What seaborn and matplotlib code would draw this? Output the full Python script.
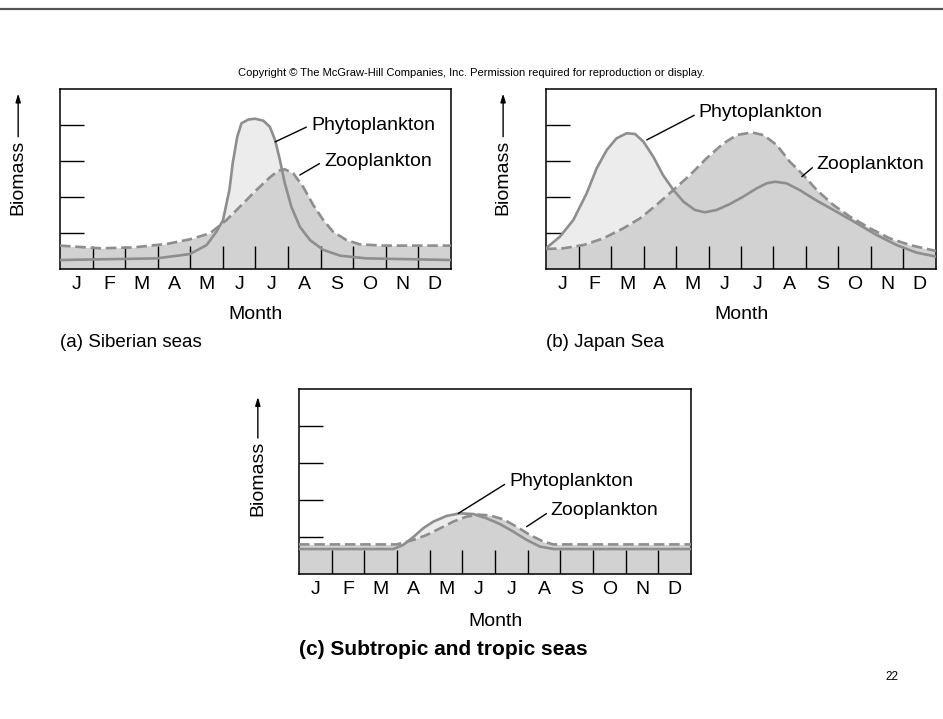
import numpy as np
import seaborn as sns
import matplotlib.pyplot as plt
from matplotlib.lines import Line2D

# month labels
months = ['J', 'F', 'M', 'A', 'M', 'J', 'J', 'A', 'S', 'O', 'N', 'D']

# (a) Siberian seas, x in months from start of Jan, y as fraction of axis height
sib_phyto_m = [0, 2.97, 3.99, 4.5, 4.8, 5.0, 5.2, 5.3, 5.44, 5.57, 5.78, 5.98, 6.24, 6.44, 6.6, 6.75,
               6.9, 7.1, 7.36, 7.67, 8.08, 8.6, 9.4, 12]
sib_phyto_v = [0.05, 0.059, 0.083, 0.133, 0.207, 0.27, 0.44, 0.587, 0.735, 0.81, 0.83, 0.835, 0.824,
               0.79, 0.717, 0.605, 0.476, 0.346, 0.235, 0.161, 0.106, 0.074, 0.059, 0.05]
sib_zoo_m = [0, 1.23, 2.25, 3.27, 3.99, 4.6, 5.11, 5.52, 6.03, 6.44, 6.7, 6.9, 7.16, 7.46, 7.77,
             8.08, 8.38, 8.79, 9.2, 9.9, 12]
sib_zoo_v = [0.13, 0.115, 0.12, 0.139, 0.165, 0.198, 0.272, 0.346, 0.439, 0.509, 0.546, 0.554, 0.531,
             0.457, 0.356, 0.272, 0.207, 0.161, 0.137, 0.13, 0.13]

# (b) Japan Sea
jap_phyto_m = [0, 0.43, 0.84, 1.25, 1.56, 1.87, 2.17, 2.48, 2.74, 3.0, 3.3, 3.6, 3.92, 4.23, 4.58,
               4.89, 5.25, 5.66, 6.07, 6.48, 6.79, 7.05, 7.4, 7.8, 8.3, 8.94, 9.56, 10.17, 10.79,
               11.4, 12]
jap_phyto_v = [0.115, 0.18, 0.272, 0.42, 0.56, 0.661, 0.726, 0.754, 0.75, 0.707, 0.624, 0.522, 0.439,
               0.374, 0.328, 0.315, 0.328, 0.361, 0.402, 0.448, 0.476, 0.485, 0.476, 0.439, 0.383,
               0.318, 0.254, 0.189, 0.133, 0.091, 0.069]
jap_zoo_m = [0, 0.53, 1.15, 1.76, 2.38, 2.89, 3.4, 3.92, 4.43, 4.94, 5.46, 5.87, 6.33, 6.69, 7.1,
             7.5, 7.92, 8.33, 8.84, 9.35, 9.97, 10.58, 11.2, 12]
jap_zoo_v = [0.111, 0.115, 0.133, 0.17, 0.226, 0.281, 0.356, 0.439, 0.522, 0.615, 0.698, 0.744, 0.759,
             0.744, 0.689, 0.596, 0.522, 0.439, 0.356, 0.291, 0.226, 0.17, 0.133, 0.1]

# (c) Subtropic and tropic seas
tro_phyto_m = [0, 2.89, 3.19, 3.5, 3.8, 4.11, 4.52, 4.93, 5.34, 5.74, 6.15, 6.56, 6.97, 7.38, 7.79, 12]
tro_phyto_v = [0.135, 0.135, 0.157, 0.2, 0.247, 0.283, 0.314, 0.328, 0.324, 0.301, 0.27, 0.229, 0.184,
               0.148, 0.135, 0.135]
tro_zoo_m = [0, 2.99, 3.5, 3.91, 4.32, 4.72, 5.13, 5.49, 5.85, 6.26, 6.66, 7.07, 7.48, 7.79, 12]
tro_zoo_v = [0.16, 0.16, 0.184, 0.211, 0.247, 0.283, 0.31, 0.321, 0.317, 0.295, 0.256, 0.211, 0.175,
             0.16, 0.16]

LINE = '#8e8e8e'
DARK = '#d2d2d2'
LIGHT = '#ececec'

sns.set_style('white')
plt.rcParams['font.family'] = ['Liberation Sans', 'DejaVu Sans']
plt.rcParams['text.color'] = 'black'
plt.rcParams['xtick.color'] = 'black'
plt.rcParams['ytick.color'] = 'black'
plt.rcParams['axes.labelcolor'] = 'black'

fig = plt.figure(figsize=(9.43, 7.19), dpi=100)


def panel(rect, phyto_m, phyto_v, zoo_m, zoo_v, title, bold, labels, biomass):
    ax = fig.add_axes(rect)
    ax.fill_between(phyto_m, phyto_v, 0, color=LIGHT, lw=0, zorder=1)
    ax.fill_between(zoo_m, zoo_v, 0, color=DARK, lw=0, zorder=2)
    ax.vlines(np.arange(1, 12), 0, 0.13, color='black', lw=1, zorder=3)
    sns.lineplot(x=phyto_m, y=phyto_v, ax=ax, color=LINE, linewidth=1.9, zorder=4)
    sns.lineplot(x=zoo_m, y=zoo_v, ax=ax, color=LINE, linewidth=1.9, dashes=False, zorder=4)
    ax.lines[-1].set_dashes((4, 1.8))
    ax.set_xlim(0, 12)
    ax.set_ylim(0, 1)
    ax.set_xticks(np.arange(12) + 0.5)
    ax.set_xticklabels(months, fontsize=14)
    ax.set_yticks([0.2, 0.4, 0.6, 0.8])
    ax.set_yticklabels([])
    ax.tick_params(axis='x', length=0, pad=5, labelcolor='black')
    ax.tick_params(axis='y', direction='in', length=17.5, width=1, color='black', left=True)
    for s in ax.spines.values():
        s.set_color('black')
        s.set_linewidth(1.1)
    ax.set_xlabel('')
    ax.set_ylabel('')
    ax.text(0.5, -0.255, 'Month', transform=ax.transAxes, ha='center', va='center', fontsize=14)
    ax.text(0, -0.41, title, transform=ax.transAxes, ha='left', va='center',
            fontsize=15 if bold else 13.5, fontweight='bold' if bold else 'normal')
    # curve labels with leader lines
    for txt, pt, pos in labels:
        ax.annotate(txt, xy=pt, xytext=pos, ha='left', va='center', fontsize=14,
                    arrowprops=dict(arrowstyle='-', color='black', lw=1, relpos=(0, 0.5),
                                    shrinkA=1, shrinkB=0),
                    annotation_clip=False, zorder=5)
    bx, by, y0, y1 = biomass
    ax.text(bx, by, 'Biomass', transform=ax.transAxes, rotation=90, ha='center', va='center',
            fontsize=14)
    ax.annotate('', xy=(bx, y1), xytext=(bx, y0), xycoords='axes fraction',
                textcoords='axes fraction',
                arrowprops=dict(arrowstyle='-|>,head_length=0.5,head_width=0.15', color='black',
                                lw=1, shrinkA=0, shrinkB=0))
    return ax


panel([60 / 943, 1 - 269 / 719, 391 / 943, 180 / 719],
      sib_phyto_m, sib_phyto_v, sib_zoo_m, sib_zoo_v, '(a) Siberian seas', False,
      [('Phytoplankton', (6.6, 0.706), (7.7, 0.8)), ('Zooplankton', (7.36, 0.522), (8.1, 0.6))],
      (-0.107, 0.508, 0.735, 0.975))
panel([546 / 943, 1 - 269 / 719, 390 / 943, 180 / 719],
      jap_phyto_m, jap_phyto_v, jap_zoo_m, jap_zoo_v, '(b) Japan Sea', False,
      [('Phytoplankton', (3.1, 0.717), (4.7, 0.867)), ('Zooplankton', (7.87, 0.513), (8.33, 0.583))],
      (-0.11, 0.508, 0.735, 0.975))
panel([299 / 943, 1 - 574 / 719, 392 / 943, 185 / 719],
      tro_phyto_m, tro_phyto_v, tro_zoo_m, tro_zoo_v, '(c) Subtropic and tropic seas', True,
      [('Phytoplankton', (4.88, 0.328), (6.43, 0.499)), ('Zooplankton', (6.97, 0.256), (7.71, 0.342))],
      (-0.105, 0.516, 0.735, 0.957))

fig.text(0.5, 1 - 73 / 719,
         'Copyright \u00a9 The McGraw-Hill Companies, Inc. Permission required for reproduction or display.',
         ha='center', va='center', fontsize=8)
fig.text(892 / 943, 1 - 677 / 719, '22', ha='center', va='center', fontsize=8.5)
fig.add_artist(Line2D([0, 1], [1 - 8.5 / 719, 1 - 8.5 / 719], color='#555555', lw=1.6))

fig.savefig('out.png', dpi=100)
